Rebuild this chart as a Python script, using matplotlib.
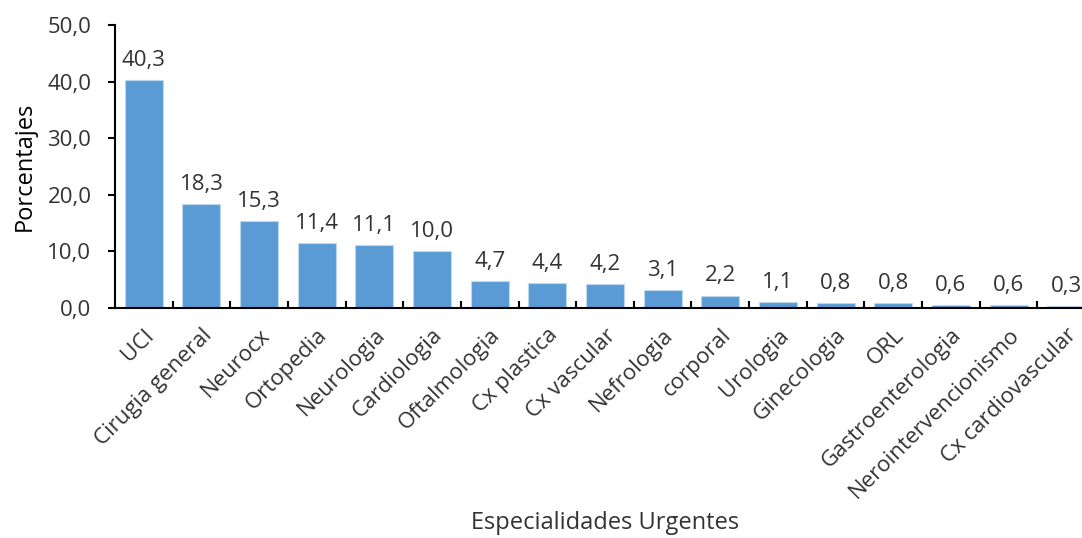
import matplotlib
matplotlib.use('Agg')
import matplotlib.pyplot as plt
import numpy as np

# Datos de la grafica
especialidades = ['UCI', 'Cirugia general', 'Neurocx', 'Ortopedia', 'Neurologia', 'Cardiologia',
                  'Oftalmologia', 'Cx plastica', 'Cx vascular', 'Nefrologia', 'corporal', 'Urologia',
                  'Ginecologia', 'ORL', 'Gastroenterologia', 'Nerointervencionismo', 'Cx cardiovascular']
porcentajes = [40.3, 18.3, 15.3, 11.4, 11.1, 10.0, 4.7, 4.4, 4.2, 3.1, 2.2, 1.1, 0.8, 0.8, 0.6, 0.6, 0.3]
y_ticks = [0, 10, 20, 30, 40, 50]

plt.rcParams['font.family'] = ['Open Sans', 'DejaVu Sans']
text_color = '#333333'

fig = plt.figure(figsize=(10.82, 5.38), dpi=100)
ax = fig.add_axes([115 / 1082, 1 - 308 / 538, 980 / 1082, 283 / 538])

x = np.arange(len(especialidades))
ax.bar(x, porcentajes, width=0.66, color='#5B9BD5', edgecolor='#BDD7EE', linewidth=0.8)

# etiquetas de valor encima de cada barra
for xi, v in zip(x, porcentajes):
    ax.text(xi, v + 1.6, f'{v:.1f}'.replace('.', ','), ha='center', va='bottom',
            fontsize=16, color=text_color)

ax.set_xlim(-0.5, len(especialidades) - 0.5)
ax.set_ylim(0, 50)
ax.set_yticks(y_ticks)
ax.set_yticklabels([f'{t:.1f}'.replace('.', ',') for t in y_ticks], fontsize=16, color=text_color)

ax.set_xticks(x)
ax.set_xticklabels(especialidades, rotation=45, ha='right', rotation_mode='anchor',
                   fontsize=16, color=text_color)
ax.tick_params(axis='x', which='major', length=0, pad=12)
ax.set_xticks(np.arange(0.5, len(especialidades) - 0.5), minor=True)
ax.tick_params(axis='x', which='minor', direction='in', length=5, width=1.5, color='black')
ax.tick_params(axis='y', direction='out', length=5, width=1.5, color='black', pad=12)

for s in ['top', 'right']:
    ax.spines[s].set_visible(False)
for s in ['left', 'bottom']:
    ax.spines[s].set_linewidth(1.5)
    ax.spines[s].set_color('black')

ax.set_ylabel('Porcentajes', fontsize=17, color='black', labelpad=8)
fig.text(605 / 1082, 1 - 523 / 538, 'Especialidades Urgentes', ha='center', va='center',
         fontsize=17, color=text_color)

fig.savefig('out.png', dpi=100)
